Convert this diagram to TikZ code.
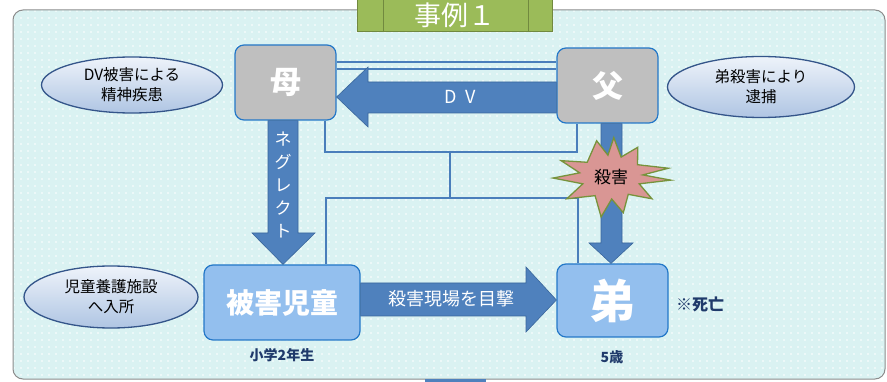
\documentclass[tikz,border=0pt]{standalone}
\usepackage{fontspec}
\setmainfont{Noto Sans CJK JP}
\usetikzlibrary{shapes.geometric,patterns,calc}
\definecolor{panelfill}{HTML}{DAF2F2}
\definecolor{panelline}{HTML}{8C8C8C}
\definecolor{titlegreen}{HTML}{9BBB59}
\definecolor{titleline}{HTML}{71893F}
\definecolor{grayfill}{HTML}{BFBFBF}
\definecolor{boxline}{HTML}{2478C8}
\definecolor{lightblue}{HTML}{93BFEE}
\definecolor{arrowblue}{HTML}{4F81BD}
\definecolor{arrowline}{HTML}{3A679C}
\definecolor{connblue}{HTML}{4A7EBB}
\definecolor{burstfill}{HTML}{D99694}
\definecolor{burstline}{HTML}{77933C}
\definecolor{navy}{HTML}{1F3A6B}
\definecolor{elltop}{HTML}{EEF3FA}
\definecolor{ellbot}{HTML}{AFC5E3}
\definecolor{ellline}{HTML}{34558A}
\pgfdeclarepatternformonly{paneldots}{\pgfqpoint{-1pt}{-1pt}}{\pgfqpoint{1pt}{1pt}}{\pgfqpoint{7pt}{7pt}}{\pgfpathcircle{\pgfpointorigin}{0.8pt}\pgfusepath{fill}}
\newcommand{\fs}[1]{\fontsize{#1}{#1}\selectfont}
\begin{document}
\begin{tikzpicture}[x=1pt,y=-1pt,
  graybox/.style={draw=boxline, line width=1.2pt, fill=grayfill, rounded corners=9pt, inner sep=0pt, text=white, font=\fs{31}\bfseries},
  bluebox/.style={draw=boxline, line width=1.2pt, fill=lightblue, rounded corners=9pt, inner sep=0pt, text=white, font=\fs{28}\bfseries},
  fatarrow/.style={fill=arrowblue, draw=arrowline, line width=0.6pt},
  conn/.style={draw=connblue, line width=1.3pt},
  oval/.style={ellipse, draw=ellline, line width=1.3pt, top color=elltop, bottom color=ellbot, inner sep=0pt, align=center, font=\fontsize{15.5}{20}\selectfont},
  navylabel/.style={text=navy, font=\fs{14}\bfseries, inner sep=0pt},
  arrowtext/.style={text=white, inner sep=0pt, font=\fs{18}}
]
\useasboundingbox (0,0) rectangle (887,382);
\fill[white] (0,0) rectangle (887,382);
% panel
\filldraw[fill=panelfill, draw=panelline, line width=1pt, rounded corners=10pt] (13,10) rectangle (885,379);
\fill[pattern=paneldots, pattern color=white, rounded corners=9pt] (14,11) rectangle (884,378);
% bottom tab
\fill[arrowblue] (425,379) rectangle (486,390);
% title
\filldraw[fill=titlegreen, draw=titleline, line width=1pt] (357,-5) rectangle (383,32);
\filldraw[fill=titlegreen, draw=titleline, line width=1pt] (383,-5) rectangle (528,32);
\filldraw[fill=titlegreen, draw=titleline, line width=1pt] (528,-5) rectangle (552,32);
\node[text=white, inner sep=0pt, font=\fs{27}] (title) at (455,15) {事例１};

% main nodes
\node[graybox, minimum width=101pt, minimum height=75pt] (mother) at (285.5,82.5) {母};
\node[graybox, minimum width=101pt, minimum height=75pt] (father) at (607.5,85.5) {父};
\node[bluebox, minimum width=156pt, minimum height=75pt] (victim) at (282,302.5) {被害児童};
\node[bluebox, minimum width=111pt, minimum height=73pt, font=\fs{46}\bfseries] (brother) at (612.5,300.5) {弟};

% family connectors
\draw[conn, line width=1.6pt] (mother.east |- 0,62) -- (father.west |- 0,62);
\draw[conn, line width=1.1pt] (mother.east |- 0,69) -- (father.west |- 0,69);
\coordinate (jp) at (450,152);
\coordinate (jc) at (450,198);
\draw[conn] (325,0 |- mother.south) -- (325,0 |- jp) -- (577,0 |- jp) -- (577,0 |- father.south);
\draw[conn] (jp) -- (jc);
\draw[conn] (326,0 |- victim.north) -- (326,0 |- jc) -- (578,0 |- jc) -- (578,0 |- brother.north);

% fat arrows
\draw[fatarrow] (mother.east |- 0,97) -- (368,67) -- (368,82) -- (father.west |- 0,82) -- (father.west |- 0,113) -- (368,113) -- (368,127) -- cycle;
\node[arrowtext] (dvlabel) at (460,97) {D\hspace{0.5em}V};
\draw[fatarrow] (268,0 |- mother.south) -- (298,0 |- mother.south) -- (298,233) -- (315,233) -- (283,0 |- victim.north) -- (252,233) -- (268,233) -- cycle;
\node[arrowtext, align=center, font=\fontsize{17}{23}\selectfont] (neglect) at (283,185) {ネ\\グ\\レ\\ク\\ト};
\draw[fatarrow] (601,0 |- father.south) -- (622,0 |- father.south) -- (622,243) -- (633,243) -- (611,0 |- brother.north) -- (589,243) -- (601,243) -- cycle;
\draw[fatarrow] (victim.east |- 0,283) -- (526,283) -- (526,267) -- (brother.west |- 0,300) -- (526,332) -- (526,316) -- (victim.east |- 0,316) -- cycle;
\node[arrowtext] (witness) at (451,299) {殺害現場を目撃};

% burst
\coordinate (bc) at (611,177);
\draw[fill=burstfill, draw=burstline, line width=1.3pt, shift={(bc)}]
  (5:60 and 36) -- (20:30 and 20) -- (35:50 and 38) -- (52:28 and 22) -- (70:36 and 38) -- (88:20 and 22)
  -- (108:32 and 42) -- (122:30 and 22) -- (145:54 and 38) -- (160:30 and 20) -- (178:58 and 30) -- (192:32 and 20)
  -- (207:56 and 36) -- (222:32 and 22) -- (245:34 and 40) -- (262:22 and 22) -- (280:16 and 40) -- (295:24 and 22)
  -- (312:40 and 40) -- (326:32 and 22) -- (343:60 and 30) -- (354:32 and 20) -- cycle;
\node[inner sep=0pt, font=\fs{17}, text=black] (kill) at (bc) {殺害};

% ovals
\node[oval, minimum width=181pt, minimum height=56pt] (o1) at (132,85) {DV被害による\\精神疾患};
\node[oval, minimum width=187pt, minimum height=61pt] (o2) at (761,87) {弟殺害により\\逮捕};
\node[oval, minimum width=174pt, minimum height=62pt] (o3) at (111,297) {児童養護施設\\へ入所};

% labels
\node[navylabel] (grade) at (282,355) {小学2年生};
\node[navylabel] (age) at (612,357) {5歳};
\node[navylabel, font=\fs{16}\bfseries, anchor=west] (dead) at (676,304) {※死亡};
\end{tikzpicture}
\end{document}
